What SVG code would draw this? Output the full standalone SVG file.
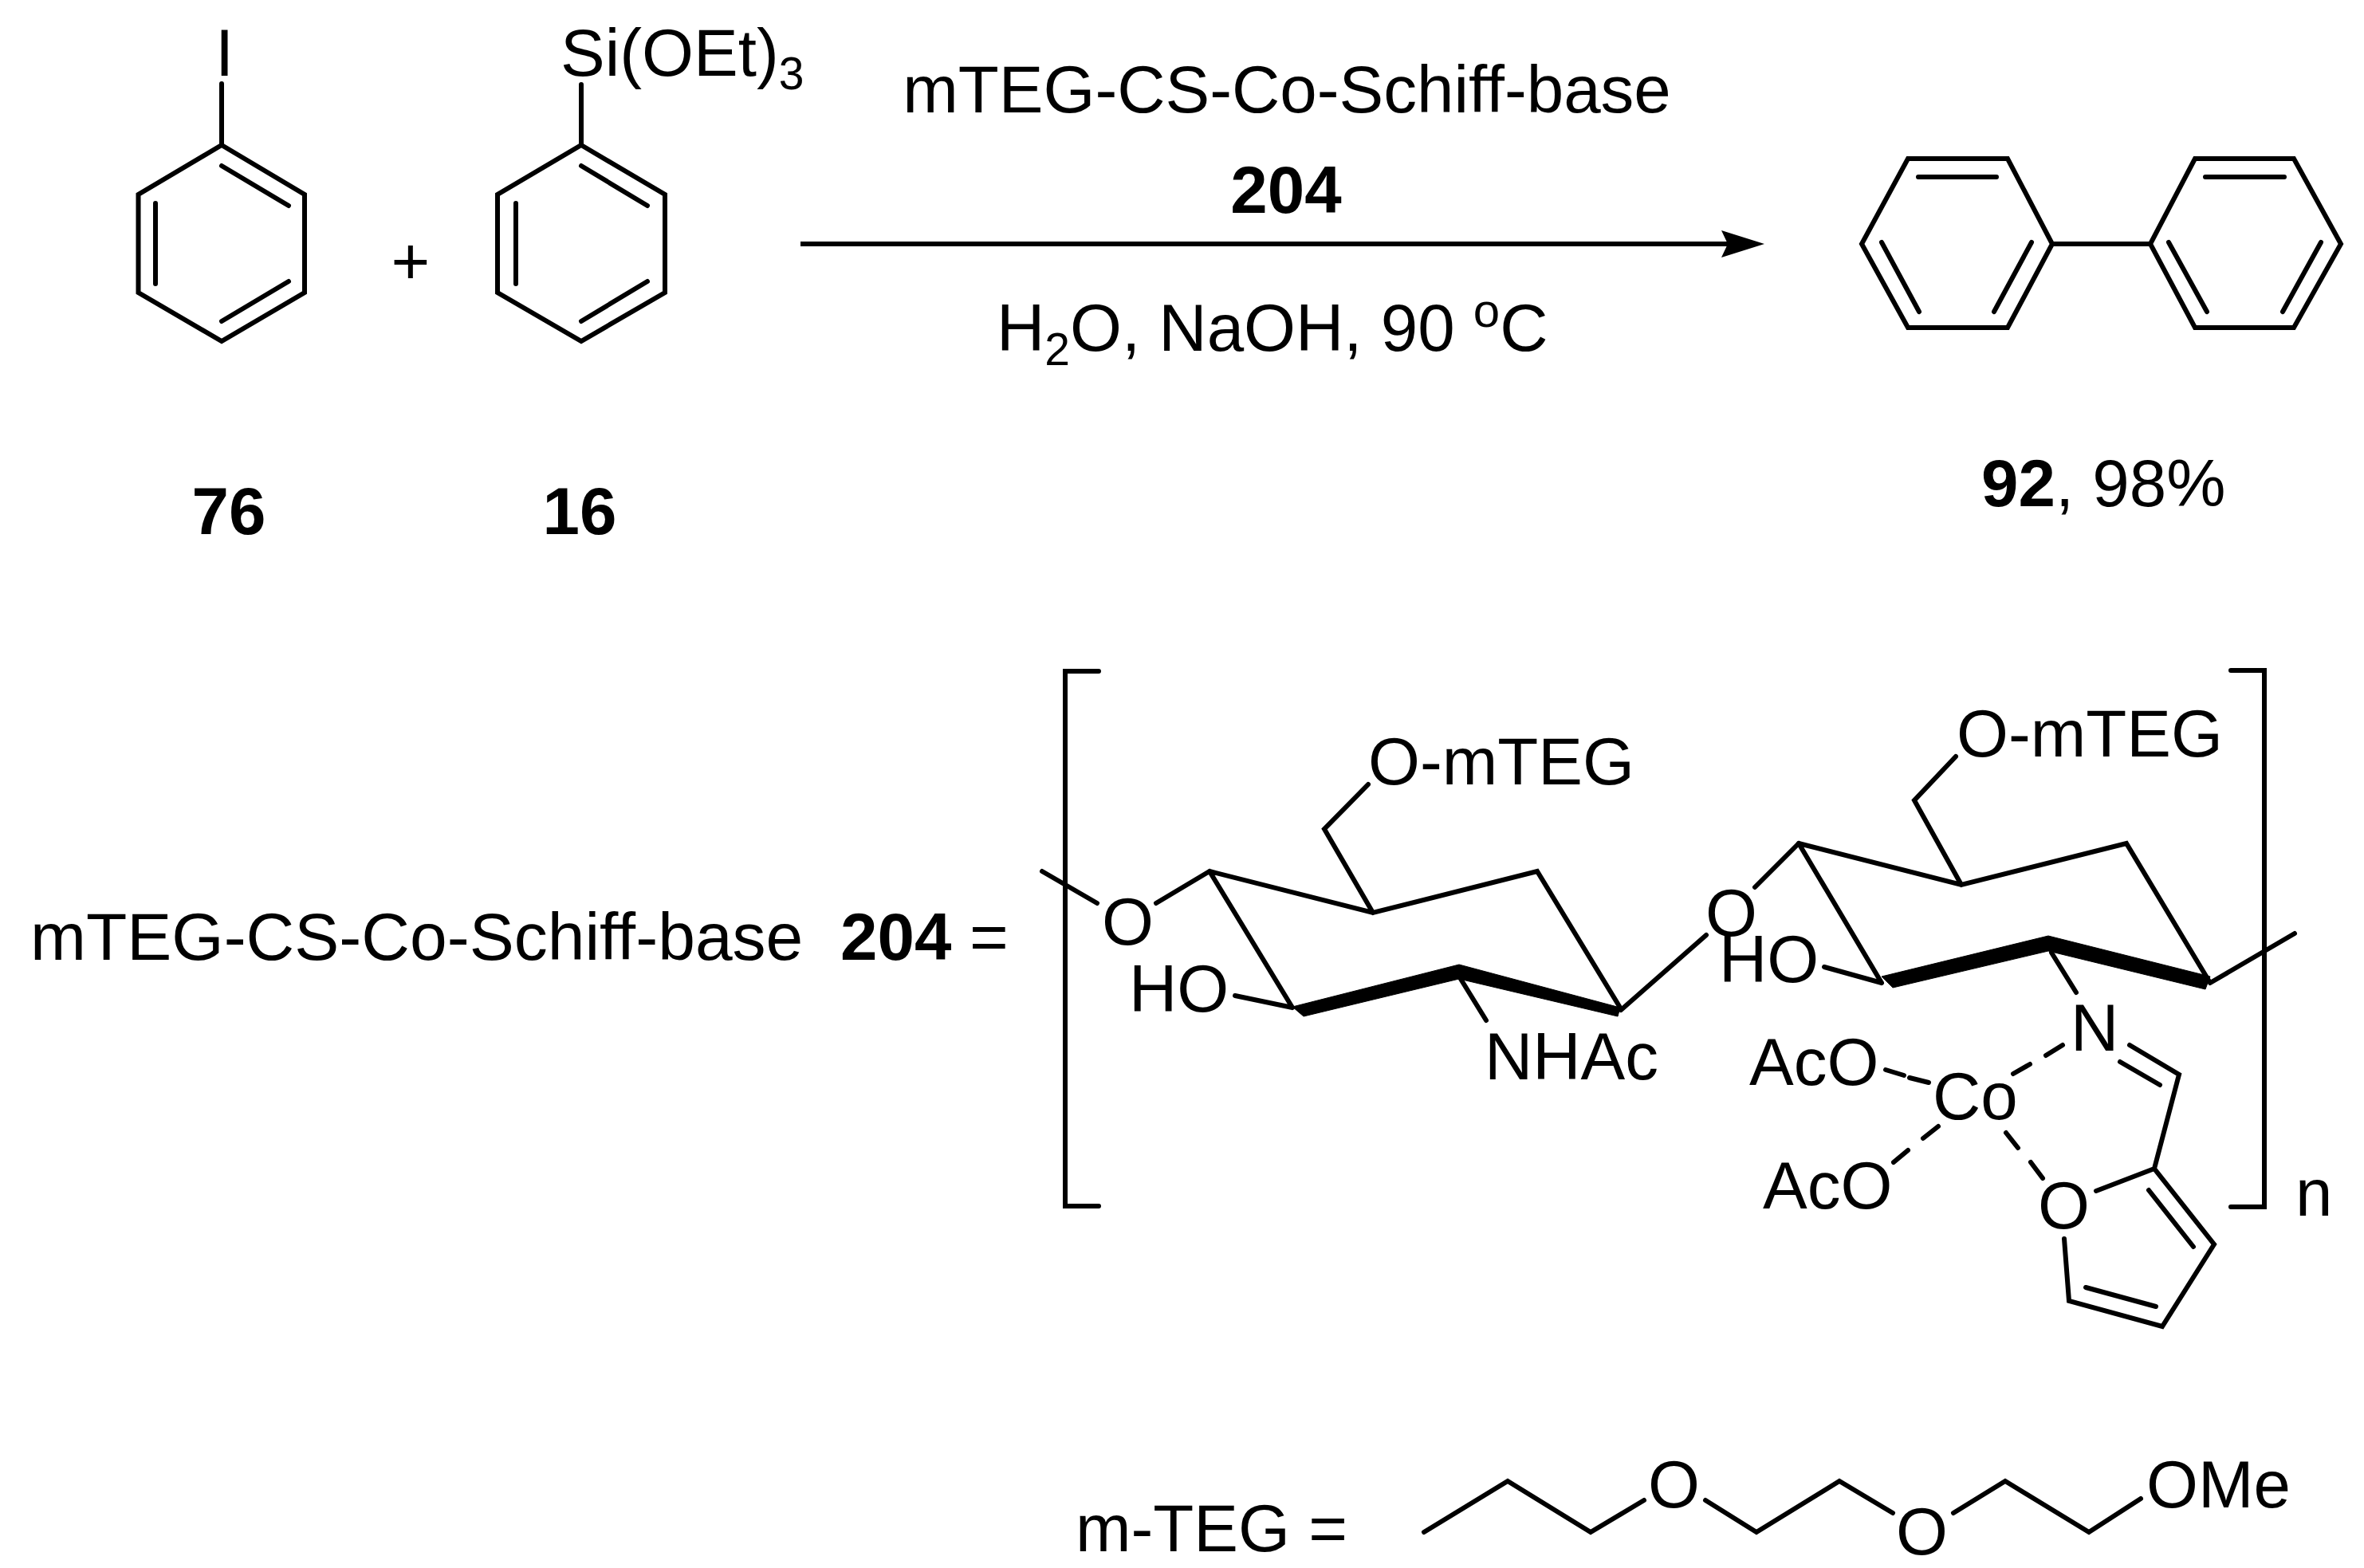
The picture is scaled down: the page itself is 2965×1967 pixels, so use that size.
<svg xmlns="http://www.w3.org/2000/svg" width="2965" height="1967" viewBox="0 0 2965 1967">
<style>
text{font-family:"Liberation Sans",Arial,sans-serif;font-size:83.500px;fill:#000}
.b{font-weight:bold}
.s{font-size:57px}
path.l{fill:none;stroke:#000;stroke-width:6;stroke-linecap:round;stroke-linejoin:miter}
path.w{fill:#000;stroke:#000;stroke-width:1;stroke-linejoin:round}
</style>
<defs>
<marker id="ah" markerUnits="userSpaceOnUse" markerWidth="56" markerHeight="34" refX="21" refY="17" orient="auto"><path d="M0 0L54 17L0 34L8 17Z" fill="#000"/></marker>
</defs>
<rect width="2965" height="1967" fill="#fff"/>
<g id="iodobenzene">
<path class="l" d="M278 105V182M278 182L382 244V367L278 428L173.500 367V244ZM278 208L362 258M195 255V356M362 353L278 403"/>
<text x="270" y="95">I</text>
<text class="b" x="287" y="670" text-anchor="middle">76</text>
</g>
<text id="plus" x="515" y="356" text-anchor="middle">+</text>
<g id="phenylsilane">
<path class="l" d="M729 106V182M729 182L834 244V367L729 428L624 367V244ZM729 208L812 258M647 255V356M812 353L729 403"/>
<text x="703" y="95">Si(OEt)<tspan class="s" dy="17">3</tspan></text>
<text class="b" x="727" y="670" text-anchor="middle">16</text>
</g>
<g id="connectors">
<path d="M1004 306H2180" fill="none" stroke="#000" stroke-width="6" marker-end="url(#ah)"/>
</g>
<g id="conditions">
<text x="1614" y="141" text-anchor="middle">mTEG-CS-Co-Schiff-base</text>
<text class="b" x="1613" y="267" text-anchor="middle">204</text>
<text x="1250" y="440">H<tspan class="s" dy="18">2</tspan><tspan dy="-18">O, NaOH, 90 </tspan><tspan style="font-size:60px" dy="-30">o</tspan><tspan dy="30">C</tspan></text>
</g>
<g id="biphenyl">
<path class="l" d="M2393 199H2518L2574 306L2518 411H2393L2335 306ZM2753 199H2877L2936 306L2877 411H2753L2697 306ZM2574 306H2697M2406 222H2504M2360 304L2407 391M2548 304L2501 391M2766 222H2865M2720 304L2768 391M2911 304L2863 391"/>
<text x="2485" y="635"><tspan class="b">92</tspan>, 98%</text>
</g>
<g id="legend">
<text x="38" y="1204" style="font-size:84px">mTEG-CS-Co-Schiff-base</text>
<text class="b" x="1054" y="1204">204</text>
<text x="1216" y="1204">=</text>
</g>
<g id="polymer">
<path class="l" d="M1378 842H1336V1513H1378M2798 841H2840V1514H2798"/>
<text x="2879" y="1525">n</text>
</g>
<g id="ring-one">
<path class="l" d="M1716 984L1661 1040L1722 1145M1517 1093L1722 1145L1928 1093L2032 1264M1517 1093L1621 1264M1307 1093L1376 1133M1450 1133L1517 1093M1549 1249L1621 1264M1832 1228L1864 1280"/>
<path class="w" d="M1621 1263L1830 1210L2032 1264L2029 1275L1830 1228L1635 1275Z"/>
<text x="1716" y="984">O-mTEG</text>
<text x="1382" y="1185">O</text>
<text x="1416" y="1269">HO</text>
<text x="1862" y="1354">NHAc</text>
</g>
<g id="bridge">
<path class="l" d="M2033 1267L2140 1173M2256 1058L2201 1113"/>
<text x="2139" y="1174">O</text>
</g>
<g id="ring-two">
<path class="l" d="M2453 949L2401 1004L2460 1110M2256 1058L2460 1110L2667 1058L2772 1233M2256 1058L2360 1233M2288 1213L2360 1233M2772 1233L2878 1171M2573 1195L2604 1245"/>
<path class="w" d="M2360 1225L2569 1174L2772 1225L2766 1241L2569 1193L2374 1239Z"/>
<text x="2454" y="949">O-mTEG</text>
<text x="2156" y="1232">HO</text>
</g>
<g id="schiff-base">
<path class="l" d="M2671 1311L2733 1348L2702 1466L2777 1561L2712 1664L2595 1632L2589 1554M2659 1332L2709 1361M2702 1466L2629 1494M2695 1493L2751 1564M2616 1615L2704 1639"/>
<path class="l" d="M2365 1342L2388 1349M2395 1352L2419 1358M2525 1347L2546 1335M2566 1324L2587 1311M2431 1413L2412 1428M2393 1443L2375 1458M2516 1421L2531 1440M2547 1458L2562 1478"/>
<text x="2597" y="1318">N</text>
<text x="2424" y="1404">Co</text>
<text x="2556" y="1541">O</text>
<text x="2194" y="1361">AcO</text>
<text x="2211" y="1516">AcO</text>
</g>
<g id="m-TEG">
<text x="1349" y="1946">m-TEG =</text>
<path class="l" d="M1786 1922L1891 1858L1995 1922L2062 1882M2139 1882L2203 1922L2307 1858L2374 1898M2450 1898L2515 1858L2620 1922L2685 1880"/>
<text x="2067" y="1891">O</text>
<text x="2378" y="1950">O</text>
<text x="2692" y="1891">OMe</text>
</g>
</svg>
